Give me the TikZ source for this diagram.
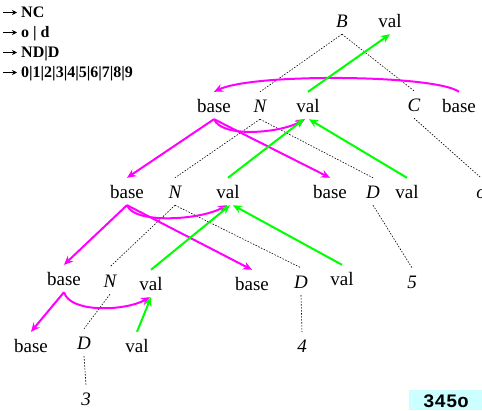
\documentclass[tikz,border=0pt]{standalone}
\usepackage{fontspec}
\setmainfont{Liberation Serif}
\newfontfamily\mymono{Liberation Mono}
\usetikzlibrary{arrows.meta}
\definecolor{mag}{HTML}{FF00FF}
\definecolor{grn}{HTML}{00FF00}
\definecolor{boxcyan}{HTML}{CCFFFF}
\tikzset{
  word/.style={font=\fontsize{19}{22}\selectfont, text height=13pt, text depth=0pt, inner xsep=1pt, inner ysep=7pt, anchor=base},
  var/.style={word, font=\fontsize{19}{22}\selectfont\itshape},
  legend/.style={font=\fontsize{16}{20}\selectfont\bfseries, anchor=base west, inner sep=0pt},
  legarrow/.style={line width=1.2pt, -{Stealth[length=5pt,width=5pt]}},
  tree/.style={dash pattern=on 1.5pt off 1.5pt, line width=0.6pt},
  magarrow/.style={draw=mag, line width=2pt, -{Stealth[length=9pt,width=8pt,inset=3pt]}},
  grnarrow/.style={draw=grn, line width=2pt, -{Stealth[length=9pt,width=8pt,inset=3pt]}}
}
\begin{document}
\begin{tikzpicture}[x=1pt,y=-1pt]
\useasboundingbox (0,0) rectangle (482,410);
% legend
\node[legend] (l1) at (21,17) {NC};
\node[legend] (l2) at (21,37) {o | d};
\node[legend] (l3) at (21,57) {ND|D};
\node[legend] (l4) at (21,77) {0|1|2|3|4|5|6|7|8|9};
\foreach \n in {l1,l2,l3,l4}{
  \draw[legarrow] ([xshift=-18pt,yshift=4.5pt]\n.base west) coordinate (\n s) -- ([xshift=-4pt,yshift=4.5pt]\n.base west) coordinate (\n e);
}
% top
\node[var] (B) at (342,27) {B};
\node[word] (v0) at (390,27) {val};
% row 1
\node[word] (b1) at (214,112) {base};
\node[var] (N1) at (260,112) {N};
\node[word] (v1) at (308,112) {val};
\node[var] (C) at (414,111) {C};
\node[word] (b1r) at (459,112) {base};
% row 2
\node[word] (b2) at (127,198) {base};
\node[var] (N2) at (175,198) {N};
\node[word] (v2) at (228,198) {val};
\node[word] (b2r) at (330,198) {base};
\node[var] (D2) at (373,198) {D};
\node[word] (v2r) at (407,198) {val};
\node[var] (o) at (481,198) {o};
% row 3
\node[word] (b3) at (64,285) {base};
\node[var] (N3) at (110,287) {N};
\node[word] (v3) at (151,290) {val};
\node[word] (b3r) at (252,290) {base};
\node[var] (D3) at (301,288) {D};
\node[word] (v3r) at (342,285) {val};
\node[var] (n5) at (412,288) {5};
% row 4
\node[word] (b4) at (31,352) {base};
\node[var] (D4) at (84,349) {D};
\node[word] (v4) at (137,352) {val};
\node[var] (n4) at (302,352) {4};
% row 5
\node[var] (n3) at (86,405) {3};
% result box
\fill[boxcyan] (409,390) rectangle (482,410);
\node[font=\fontsize{19}{20}\selectfont\mymono\bfseries, anchor=base, inner sep=0pt] (res) at (446,407) {345o};
% tree edges
\draw[tree] (B.south) -- (N1.north);
\draw[tree] (B.south) -- (C.north);
\draw[tree] (N1.south) -- (N2.north);
\draw[tree] (N1.south) -- (D2.north);
\draw[tree] (C.south) -- (o.north);
\draw[tree] (N2.south) -- (N3.north);
\draw[tree] (N2.south) -- (D3.north);
\draw[tree] (D2.south) -- (n5.north);
\draw[tree] (N3.south) -- (D4.north);
\draw[tree] (D3.south) -- (n4.north);
\draw[tree] (D4.south) -- (n3.north);
% magenta arrows
\draw[magarrow] (b1r.north) .. controls +(-23,-17) and +(40,-19) .. (b1.north);
\draw[magarrow] (b1.south) -- (b2.north);
\draw[magarrow] (b1.south) -- (b2r.north);
\draw[magarrow] (b1.south) .. controls +(8,19) and +(-25,14) .. ([xshift=-3pt]v1.south);
\draw[magarrow] (b2.south) -- (b3.north);
\draw[magarrow] (b2.south) -- (b3r.north);
\draw[magarrow] (b2.south) .. controls +(7,19) and +(-27,15) .. ([xshift=-1pt]v2.south);
\draw[magarrow] (b3.south) -- (b4.north);
\draw[magarrow] (b3.south) .. controls +(6,21) and +(-25,14) .. ([xshift=-1pt]v3.south);
% green arrows
\draw[grnarrow] (v1.north) -- (v0.south);
\draw[grnarrow] (v2.north) -- ([xshift=-4pt]v1.south);
\draw[grnarrow] (v2r.north) -- ([xshift=1pt]v1.south);
\draw[grnarrow] (v3.north) -- ([xshift=2pt]v2.south);
\draw[grnarrow] (v3r.north) -- ([xshift=5pt]v2.south);
\draw[grnarrow] (v4.north) -- (v3.south);
\end{tikzpicture}
\end{document}
